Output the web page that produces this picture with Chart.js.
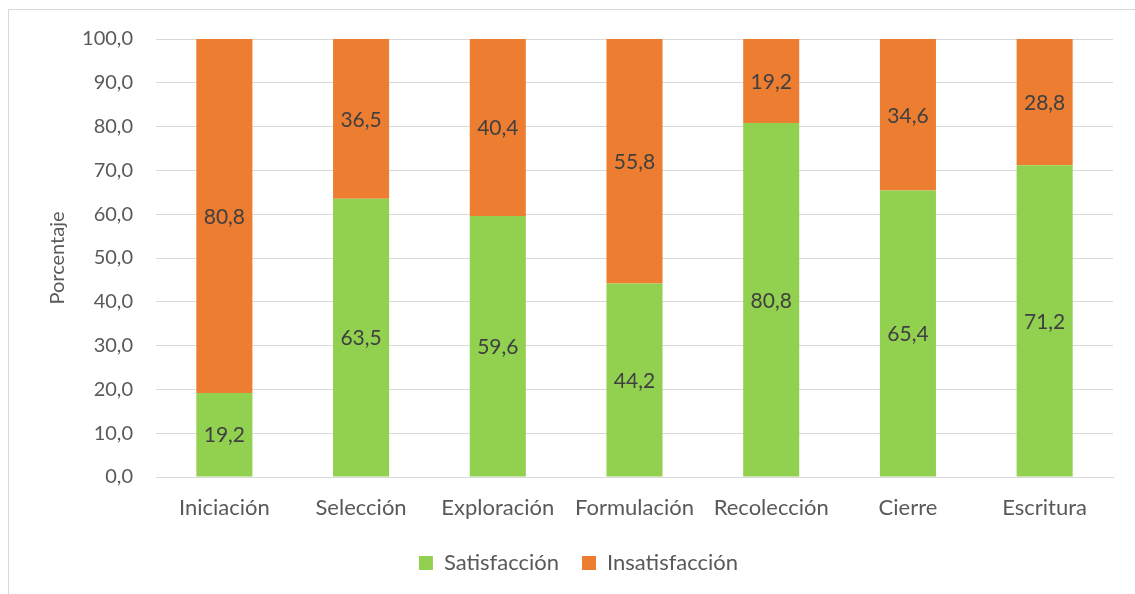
<!DOCTYPE html>
<html>
<head>
<meta charset="utf-8">
<script src="https://cdn.jsdelivr.net/npm/chart.js@4.4.1/dist/chart.umd.min.js"></script>
<style>
  html, body { margin: 0; padding: 0; background: #ffffff; }
  #wrap { position: relative; width: 1135px; height: 594px; }
</style>
</head>
<body>
<div id="wrap"><canvas id="c"></canvas></div>
<script>
const categories = ['Iniciación', 'Selección', 'Exploración', 'Formulación', 'Recolección', 'Cierre', 'Escritura'];
const satisfaccion = [19.2, 63.5, 59.6, 44.2, 80.8, 65.4, 71.2];
const insatisfaccion = [80.8, 36.5, 40.4, 55.8, 19.2, 34.6, 28.8];
const seriesNames = ['Satisfacción', 'Insatisfacción'];
const yTitle = 'Porcentaje';

const FONT = 'Lato, "Open Sans", sans-serif';
const fmt = v => Number(v).toFixed(1).replace('.', ',');

const frame = {
  id: 'frame',
  beforeDraw(chart) {
    const ctx = chart.ctx;
    ctx.save();
    ctx.fillStyle = '#ffffff';
    ctx.fillRect(0, 0, chart.width, chart.height);
    ctx.strokeStyle = '#d9d9d9';
    ctx.lineWidth = 1;
    ctx.strokeRect(8.5, 9.5, 1300, 800);
    ctx.restore();
  }
};

const legendShift = {
  id: 'legendShift',
  afterLayout(chart) {
    if (chart.legend) {
      chart.legend.left += 22;
      chart.legend.right += 22;
    }
  }
};

const valueLabels = {
  id: 'valueLabels',
  afterDatasetsDraw(chart) {
    const ctx = chart.ctx;
    ctx.save();
    ctx.font = '21px ' + FONT;
    ctx.fillStyle = '#404040';
    ctx.textAlign = 'center';
    ctx.textBaseline = 'middle';
    chart.data.datasets.forEach((ds, di) => {
      const meta = chart.getDatasetMeta(di);
      meta.data.forEach((bar, i) => {
        const p = bar.getProps(['x', 'y', 'base'], true);
        ctx.fillText(fmt(ds.data[i]), p.x, (p.y + p.base) / 2 + 1);
      });
    });
    ctx.restore();
  }
};

new Chart(document.getElementById('c'), {
  type: 'bar',
  data: {
    labels: categories,
    datasets: [
      { label: seriesNames[0], data: satisfaccion, backgroundColor: '#92D050', borderWidth: 0 },
      { label: seriesNames[1], data: insatisfaccion, backgroundColor: '#ED7D31', borderWidth: 0 }
    ]
  },
  options: {
    responsive: true,
    maintainAspectRatio: false,
    animation: false,
    layout: { padding: { left: 0, right: 22, top: 39, bottom: 10 } },
    datasets: { bar: { categoryPercentage: 1, barPercentage: 0.41 } },
    plugins: {
      tooltip: { enabled: false },
      legend: {
        position: 'bottom',
        labels: {
          font: { family: FONT, size: 22 },
          color: '#595959',
          boxWidth: 14,
          boxHeight: 14,
          padding: 23
        }
      }
    },
    scales: {
      x: {
        stacked: true,
        grid: { display: false, drawTicks: false },
        border: { display: true, color: '#d9d9d9' },
        ticks: { font: { family: FONT, size: 22 }, color: '#595959', padding: 18, maxRotation: 0 },
        afterFit(s) { s.height = 52; }
      },
      y: {
        stacked: true,
        min: 0,
        max: 100,
        ticks: { stepSize: 10, font: { family: FONT, size: 20 }, color: '#595959', padding: 23, callback: v => fmt(v) },
        grid: { color: '#d9d9d9', drawTicks: false },
        border: { display: false },
        title: { display: true, text: yTitle, font: { family: FONT, size: 20 }, color: '#595959', padding: { top: 46, bottom: 0 } },
        afterFit(s) { s.width = 156; }
      }
    }
  },
  plugins: [frame, legendShift, valueLabels]
});
</script>
</body>
</html>
